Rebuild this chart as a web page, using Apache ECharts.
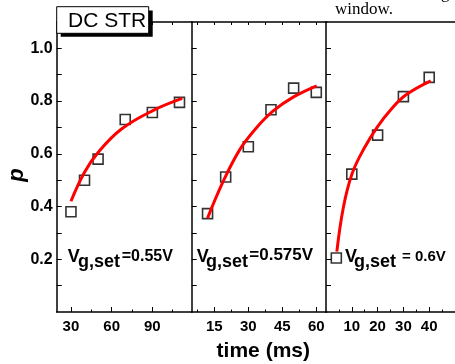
<!DOCTYPE html>
<html><head><meta charset="utf-8">
<script src="https://cdn.jsdelivr.net/npm/echarts@6/dist/echarts.min.js"></script>
<style>html,body{margin:0;padding:0;background:#fff}#c{width:455px;height:364px}</style>
</head><body><div id="c"></div>
<script>
// ---- data ----
const t055 = [30, 40, 50, 70, 90, 110];
const p055 = [0.38, 0.50, 0.58, 0.73, 0.757, 0.795];
const fitT055 = [30, 40, 50, 67, 90, 112];
const fitP055 = [0.42, 0.53, 0.605, 0.693, 0.763, 0.81];

const t0575 = [12, 20, 30, 40, 50, 60];
const p0575 = [0.373, 0.512, 0.627, 0.767, 0.849, 0.833];
const fitT0575 = [12, 19, 26.3, 33.7, 41, 50, 60.2];
const fitP0575 = [0.356, 0.497, 0.617, 0.70, 0.763, 0.816, 0.858];

const t06 = [4, 10, 20, 30, 40];
const p06 = [0.205, 0.523, 0.671, 0.817, 0.89];
const fitT06 = [4.2, 6.8, 10.2, 14.8, 20, 25.1, 30.9, 40.6];
const fitP06 = [0.229, 0.40, 0.527, 0.621, 0.703, 0.767, 0.823, 0.877];

const yTickLabels = [0.2, 0.4, 0.6, 0.8, 1.0];
const yTicks = [0.1, 0.2, 0.3, 0.4, 0.5, 0.6, 0.7, 0.8, 0.9, 1.0];
const xMajor0 = [30, 60, 90], xMinor0 = [45, 75, 105];
const xMajor1 = [15, 30, 45, 60], xMinor1 = [7.5, 22.5, 37.5, 52.5];
const xMajor2 = [10, 20, 30, 40], xMinor2 = [5, 15, 25, 35, 45];

const panelLabels = [
  {sub: 'g,set', eq: '=0.55V'},
  {sub: 'g,set', eq: '=0.575V'},
  {sub: 'g,set', eq: '= 0.6V'}
];
const xTitle = 'time (ms)';
const yTitle = 'p';
const boxTitle = 'DC STR';

// ---- layout ----
const FONT = '"Liberation Sans", Arial, sans-serif';
const grids = [
  {left: 56.7, top: 22, width: 135, height: 290},
  {left: 191.7, top: 22, width: 135, height: 290},
  {left: 326, top: 22, width: 145.5, height: 290}
];
const xRanges = [[19.5, 119], [5, 64.6], [0, 50]];
const majors = [xMajor0, xMajor1, xMajor2];
const minors = [xMinor0, xMinor1, xMinor2];
const LINE = {color: '#000', width: 1.5};

const xAxes = [], yAxes = [];
for (let g = 0; g < 3; g++) {
  const [mn, mx] = xRanges[g];
  xAxes.push({
    type: 'value', gridIndex: g, min: mn, max: mx, position: 'bottom',
    axisLine: {show: true, onZero: false, lineStyle: LINE},
    axisTick: {show: true, inside: true, length: 5, customValues: majors[g], lineStyle: {color: '#000', width: 1}},
    axisLabel: {show: true, customValues: majors[g], margin: 7, color: '#000', fontFamily: FONT, fontWeight: 'bold', fontSize: 15},
    splitLine: {show: false}
  });
  xAxes.push({
    type: 'value', gridIndex: g, min: mn, max: mx, position: 'bottom',
    axisLine: {show: false, onZero: false},
    axisTick: {show: true, inside: true, length: 2.5, customValues: minors[g], lineStyle: {color: '#000', width: 1}},
    axisLabel: {show: false},
    splitLine: {show: false}
  });
  xAxes.push({
    type: 'value', gridIndex: g, min: mn, max: mx, position: 'top',
    axisLine: {show: true, onZero: false, lineStyle: LINE},
    axisTick: {show: g < 2, inside: true, length: 3, customValues: majors[g].concat(minors[g]), lineStyle: {color: '#000', width: 1}},
    axisLabel: {show: false},
    splitLine: {show: false}
  });
  yAxes.push({
    type: 'value', gridIndex: g, min: 0, max: 1.1, position: 'left',
    axisLine: {show: true, onZero: false, lineStyle: LINE},
    axisTick: {show: true, inside: true, length: 5, customValues: yTicks, lineStyle: {color: '#000', width: 1}},
    axisLabel: {show: g === 0, customValues: yTickLabels, margin: 4, color: '#000', fontFamily: FONT, fontWeight: 'bold', fontSize: 16,
      formatter: v => v.toFixed(1)},
    splitLine: {show: false}
  });
}

const zip = (a, b) => a.map((v, i) => [v, b[i]]);
const sets = [
  [t055, p055, fitT055, fitP055],
  [t0575, p0575, fitT0575, fitP0575],
  [t06, p06, fitT06, fitP06]
];
const series = [];
sets.forEach((s, g) => {
  series.push({
    type: 'scatter', xAxisIndex: 3 * g, yAxisIndex: g, data: zip(s[0], s[1]),
    symbol: 'rect', symbolSize: 10, z: 2,
    itemStyle: {color: 'rgba(255,255,255,0)', borderColor: '#000', borderWidth: 1.6}
  });
  series.push({
    type: 'line', xAxisIndex: 3 * g, yAxisIndex: g, data: zip(s[2], s[3]),
    smooth: 0.4, showSymbol: false, z: 3,
    lineStyle: {color: '#ff0000', width: 3}
  });
});

// annotation text helpers
const mid = (base, size) => base - 0.3465 * size;
const txt = (x, base, s, size) => ({
  type: 'text', x: x, y: mid(base, size), z: 100,
  style: {text: s, fill: '#000', font: 'bold ' + size + 'px ' + FONT, align: 'left', verticalAlign: 'middle'}
});
const annX = [[67.7, 78, 121.7, 16], [196.7, 206, 249.3, 17], [345, 354, 402, 15]];
const graphic = [];
panelLabels.forEach((pl, i) => {
  const a = annX[i];
  graphic.push(txt(a[0], 263, 'V', 18));
  graphic.push(txt(a[1], 268.5, pl.sub, 18));
  graphic.push(txt(a[2], 261.7, pl.eq, a[3]));
});
graphic.push({type: 'rect', z: 100, shape: {x: 60.7, y: 10.5, width: 92, height: 26.2}, style: {fill: '#000'}});
graphic.push({type: 'rect', z: 101, shape: {x: 56.7, y: 6.7, width: 92, height: 26.6}, style: {fill: '#fff', stroke: '#000', lineWidth: 1}});
graphic.push({type: 'text', z: 102, x: 68, y: mid(28.3, 21), style: {text: boxTitle, fill: '#000', font: '21px ' + FONT, align: 'left', verticalAlign: 'middle'}});
graphic.push({type: 'text', z: 100, x: 263.3, y: 351, style: {text: xTitle, fill: '#000', font: 'bold 21px ' + FONT, align: 'center', verticalAlign: 'middle'}});
graphic.push({type: 'text', z: 100, x: 16.5, y: 175, rotation: Math.PI / 2, style: {text: yTitle, fill: '#000', font: 'italic bold 22px ' + FONT, align: 'center', verticalAlign: 'middle'}});
graphic.push({type: 'text', z: 100, x: 335, y: 15.7 - 0.3375 * 17, style: {text: 'window.', fill: '#000', font: '17px "Liberation Serif", "Times New Roman", serif', align: 'left', verticalAlign: 'middle'}});
graphic.push({type: 'text', z: 100, x: 441, y: -1 - 0.3375 * 17, style: {text: 'g', fill: '#000', font: '17px "Liberation Serif", "Times New Roman", serif', align: 'left', verticalAlign: 'middle'}});

const chart = echarts.init(document.getElementById('c'), null, {renderer: 'canvas'});
chart.setOption({
  animation: false,
  backgroundColor: '#fff',
  grid: grids,
  xAxis: xAxes,
  yAxis: yAxes,
  series: series,
  graphic: graphic
});
</script>
</body></html>
